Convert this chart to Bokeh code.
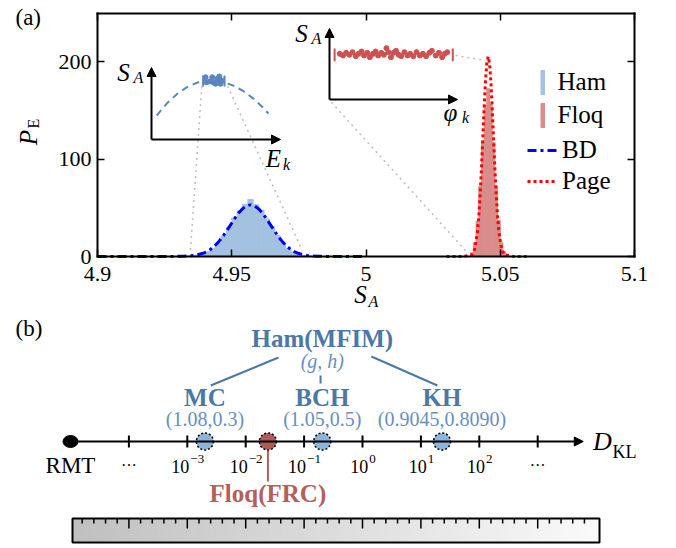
import numpy as np
from bokeh.plotting import figure
from bokeh.models import (Range1d, LinearAxis, FixedTicker, NumeralTickFormatter, CustomJSTickFormatter,
                          Label, Arrow, NormalHead, Legend, LegendItem)
from bokeh.layouts import column
from bokeh.core.properties import value
from bokeh.embed import file_html
from bokeh.resources import INLINE

SERIF = "Liberation Serif"

# ---------------- panel (a) data ----------------
ham_bins = [4.935, 4.937, 4.939, 4.941, 4.943, 4.945, 4.947, 4.949, 4.951, 4.953, 4.955, 4.957,
            4.959, 4.961, 4.963, 4.965, 4.967, 4.969, 4.971, 4.973, 4.975, 4.977, 4.979]
ham_density = [0.6, 1.3, 2.6, 4.9, 8.5, 13.5, 21.0, 29.5, 39.5, 47.0, 53.5, 58.5,
               53.0, 47.5, 38.5, 30.5, 21.5, 14.0, 8.0, 4.6, 2.3, 1.1, 0.5]
ham_bin_width = 0.002

floq_bins = [5.0395, 5.0405, 5.0415, 5.0425, 5.0435, 5.0445, 5.0455, 5.0465, 5.0475,
             5.0485, 5.0495, 5.0505, 5.0515, 5.0525]
floq_density = [4, 14, 36, 72, 118, 155, 172, 156, 117, 72, 37, 14, 5, 1.5]
floq_bin_width = 0.001

bd_s = [4.900, 4.925, 4.932, 4.936, 4.939, 4.9405, 4.942, 4.9435, 4.945, 4.9465, 4.948, 4.9495,
        4.951, 4.9525, 4.954, 4.9555, 4.957, 4.9585, 4.960, 4.9615, 4.963, 4.9645, 4.966, 4.9675,
        4.969, 4.9705, 4.972, 4.9735, 4.975, 4.978, 4.982, 4.990, 5.000]
bd_p = [0, 0, 0.2, 1.05, 3.0, 4.7, 7.2, 10.5, 14.7, 19.9, 25.8, 32.2,
        38.5, 44.3, 48.9, 51.9, 53.0, 51.9, 48.9, 44.3, 38.5, 32.2, 25.8, 19.9,
        14.7, 10.5, 7.2, 4.7, 3.0, 1.05, 0.2, 0, 0]

page_s = [5.030, 5.036, 5.0395, 5.0405, 5.0415, 5.042, 5.0425, 5.043, 5.0435, 5.044, 5.0445, 5.045,
          5.0455, 5.046, 5.0465, 5.047, 5.0475, 5.048, 5.0485, 5.049, 5.0495, 5.0505, 5.0515,
          5.055, 5.060]
page_p = [0, 0, 1.8, 7.7, 25.0, 41.0, 62.7, 90.2, 121.2, 152.5, 179.8, 198.4,
          205.0, 198.4, 179.8, 152.5, 121.2, 90.2, 62.7, 41.0, 25.0, 7.7, 1.8, 0, 0]

x_ticks = [4.9, 4.95, 5.0, 5.05, 5.1]
y_ticks = [0, 100, 200]
x_lim = (4.9, 5.1)
y_lim = (0, 249.2)

# schematic insets, in normalised inset coordinates (0..1)
ham_arc_u = [0.04, 0.12, 0.2, 0.28, 0.36, 0.457, 0.55, 0.63, 0.71, 0.79, 0.86, 0.907]
ham_arc_v = [0.333, 0.502, 0.635, 0.732, 0.794, 0.82, 0.80, 0.752, 0.675, 0.568, 0.451, 0.36]
ham_pts_u = [0.419, 0.426, 0.452, 0.471, 0.496, 0.509, 0.525, 0.535, 0.478, 0.545]
ham_pts_v = [0.865, 0.796, 0.806, 0.865, 0.774, 0.843, 0.875, 0.774, 0.796, 0.82]
ham_bar_u = [0.40, 0.566]
ham_bar_v = [0.736, 0.889]

floq_pts_u = [0.08, 0.105, 0.13, 0.155, 0.18, 0.205, 0.225, 0.25, 0.27, 0.295, 0.315, 0.34, 0.36,
              0.38, 0.405, 0.425, 0.445, 0.46, 0.48, 0.5, 0.52, 0.54, 0.56, 0.585, 0.61, 0.63,
              0.655, 0.68, 0.705, 0.73, 0.755, 0.78, 0.8, 0.83, 0.855, 0.88, 0.9, 0.92]
floq_pts_v = [0.643, 0.62, 0.657, 0.63, 0.667, 0.61, 0.643, 0.676, 0.62, 0.657, 0.596, 0.643, 0.676,
              0.62, 0.657, 0.63, 0.723, 0.667, 0.596, 0.657, 0.686, 0.63, 0.61, 0.667, 0.62, 0.643,
              0.61, 0.667, 0.62, 0.643, 0.61, 0.657, 0.686, 0.62, 0.657, 0.596, 0.643, 0.667]
floq_bar_u = [0.04, 0.963]
floq_bar_v = [0.54, 0.72]

# ---------------- panel (b) data ----------------
model_names = ["MC", "BCH", "KH"]
model_params = ["(1.08,0.3)", "(1.05,0.5)", "(0.9045,0.8090)"]
model_dkl = [2.0e-3, 2.05e-1, 2.3e1]
floq_dkl = 2.4e-2
decade_exps = [-3, -2, -1, 0, 1, 2]
decade_exp_labels = ["\u22123", "\u22122", "\u22121", "0", "1", "2"]

# colours
HAM_FILL = "#a3c1e0"
HAM_DARK = "#5a86bf"
FLOQ_FILL = "#d98d8b"
FLOQ_DARK = "#cf5050"
B_BLUE = "#4b78a6"
B_BLUE_L = "#6790bd"
B_RED = "#b35f5c"
CIRC_BLUE = "#8db5dc"
CIRC_RED = "#b05a5a"

W = 676
H1 = 312          # height of panel (a) canvas
H2 = 548 - H1     # height of panel (b) canvas


# page-pixel -> data helpers for panel (a) (frame 97..634 x 13..256)
def fx(px):
    return 4.9 + (px - 97) * 0.2 / 537


def fy(py):
    return (256 - py) * 200 / 195


# ================= panel (a) =================
p = figure(width=W, height=H1, x_range=Range1d(fx(0), fx(W)), y_range=Range1d(fy(H1), fy(0)),
           output_backend="svg", toolbar_location=None, min_border=0)
p.grid.visible = False
p.outline_line_color = None


def style_axis(ax, standoff):
    ax.major_tick_in = 7
    ax.major_tick_out = 0
    ax.minor_tick_line_color = None
    ax.major_tick_line_width = 1.5
    ax.axis_line_width = 2
    ax.axis_line_cap = "square"
    ax.major_label_text_font = SERIF
    ax.major_label_text_font_size = "22px"
    ax.major_label_text_color = "black"
    ax.major_label_standoff = standoff


xa = p.xaxis[0]
xa.ticker = FixedTicker(ticks=x_ticks)
xa.formatter = NumeralTickFormatter(format="0.[00]")
xa.fixed_location = y_lim[0]
xa.bounds = x_lim
ya = p.yaxis[0]
ya.ticker = FixedTicker(ticks=y_ticks)
ya.fixed_location = x_lim[0]
ya.bounds = y_lim
style_axis(xa, 10)
style_axis(ya, 6)
top_ax = LinearAxis(ticker=FixedTicker(ticks=x_ticks), formatter=CustomJSTickFormatter(code="return ''"),
                    fixed_location=y_lim[1], bounds=x_lim)
style_axis(top_ax, 0)
p.add_layout(top_ax, "above")
right_ax = LinearAxis(ticker=FixedTicker(ticks=y_ticks), formatter=CustomJSTickFormatter(code="return ''"),
                      fixed_location=x_lim[1], bounds=y_lim)
style_axis(right_ax, 0)
p.add_layout(right_ax, "right")

box1 = (fx(151), fx(280), fy(139), fy(67))
box2 = (fx(329), fx(457), fy(99), fy(28))


def imap(box, u, v):
    x0, x1, y0, y1 = box
    return (x0 + (x1 - x0) * np.asarray(u, dtype=float), y0 + (y1 - y0) * np.asarray(v, dtype=float))


# connectors (grey dotted)
c1a = imap(box1, 0.39, 0.74)
c1b = imap(box1, 0.59, 0.74)
c2a = imap(box2, 0.985, 0.62)
c2b = imap(box2, 0.015, -0.04)
p.segment(x0=[c1a[0], c1b[0], c2a[0], c2b[0]], y0=[c1a[1], c1b[1], c2a[1], c2b[1]],
          x1=[4.9346, 4.9763, 5.0445, 5.0371], y1=[6, 6, 201, 6],
          line_color="#bdbdbd", line_width=1.5, line_dash="2 4")

r_ham = p.vbar(x=ham_bins, top=ham_density, width=ham_bin_width, fill_color=HAM_FILL,
               line_color=HAM_FILL, line_width=1)
r_floq = p.vbar(x=floq_bins, top=floq_density, width=floq_bin_width, fill_color=FLOQ_FILL,
                line_color=FLOQ_FILL, line_width=1)
r_bd = p.line(bd_s, bd_p, line_color="#0000ff", line_width=3, line_dash="9 4 3 4")
r_page = p.line(page_s, page_p, line_color="#ff0000", line_width=3, line_dash="3 3")

# inset axes
for box in (box1, box2):
    x0, x1, y0, y1 = box
    p.add_layout(Arrow(end=NormalHead(size=9, fill_color="black", line_color="black", line_width=1),
                       x_start=x0, y_start=y0, x_end=x0, y_end=y1, line_width=2, line_color="black"))
    p.add_layout(Arrow(end=NormalHead(size=9, fill_color="black", line_color="black", line_width=1),
                       x_start=x0, y_start=y0, x_end=x1, y_end=y0, line_width=2, line_color="black"))

ax_, ay_ = imap(box1, ham_arc_u, ham_arc_v)
p.line(ax_, ay_, line_color=HAM_DARK, line_width=2, line_dash="7 5")
hx, hy = imap(box1, ham_pts_u, ham_pts_v)
p.scatter(hx, hy, size=5, color=HAM_DARK)
bx0, by0 = imap(box1, ham_bar_u, [ham_bar_v[0]] * 2)
bx1, by1 = imap(box1, ham_bar_u, [ham_bar_v[1]] * 2)
p.segment(x0=bx0, y0=by0, x1=bx1, y1=by1, line_color=HAM_DARK, line_width=2)

fxp, fyp = imap(box2, floq_pts_u, floq_pts_v)
p.scatter(fxp, fyp, size=5, color=FLOQ_DARK)
bx0, by0 = imap(box2, floq_bar_u, [floq_bar_v[0]] * 2)
bx1, by1 = imap(box2, floq_bar_u, [floq_bar_v[1]] * 2)
p.segment(x0=bx0, y0=by0, x1=bx1, y1=by1, line_color=FLOQ_DARK, line_width=2)


def lab(fig, x, y, text, size, style="normal", align="center", xo=0, yo=0, angle=0, color="black"):
    fig.add_layout(Label(x=x, y=y, text=text, x_offset=xo, y_offset=yo, angle=angle,
                         text_font=SERIF, text_font_size=size, text_font_style=style,
                         text_align=align, text_baseline="middle", text_color=color))


for box, sym, sxo, syo, kxo, kyo in ((box1, "E", -7, -19, 6, -25), (box2, "\u03c6", -7, -13, 8, -18)):
    x0, x1, y0, y1 = box
    lab(p, x0, y1, "S", "25px", "italic", xo=-28, yo=-5)
    lab(p, x0, y1, "A", "16px", "italic", xo=-13, yo=-10)
    lab(p, x1, y0, sym, "25px", "italic", xo=sxo, yo=syo)
    lab(p, x1, y0, "k", "16px", "italic", xo=kxo, yo=kyo)

# axis labels and panel tag
lab(p, fx(15), fy(17), "(a)", "23px", align="left")
lab(p, fx(360), fy(294), "S", "25px", "italic")
lab(p, fx(373), fy(301), "A", "16px", "italic")
lab(p, fx(28), fy(137), "P", "25px", "italic", angle=np.pi / 2)
lab(p, fx(33), fy(123), "E", "16px", angle=np.pi / 2)

leg1 = Legend(items=[LegendItem(label="Ham", renderers=[r_ham]), LegendItem(label="Floq", renderers=[r_floq])],
              location=(539.5, H1 - 129.5), glyph_width=5, glyph_height=30, spacing=3, padding=0, margin=0,
              label_standoff=13)
leg2 = Legend(items=[LegendItem(label="BD", renderers=[r_bd]), LegendItem(label="Page", renderers=[r_page])],
              location=(527, H1 - 196), glyph_width=30, glyph_height=30, spacing=1, padding=0, margin=0,
              label_standoff=5)
for lg in (leg1, leg2):
    lg.border_line_color = None
    lg.background_fill_alpha = 0
    lg.label_text_font = SERIF
    lg.label_text_font_size = "25px"
    lg.label_text_color = "black"
    p.add_layout(lg)


# ================= panel (b) =================
def bxp(px):
    return (px - 362) / 58.4


def byp(py):
    return 441 - py


q = figure(width=W, height=H2, x_range=Range1d(bxp(0), bxp(W)), y_range=Range1d(byp(548), byp(H1)),
           output_backend="svg", toolbar_location=None, min_border=0,
           x_axis_type=None, y_axis_type=None)
q.grid.visible = False
q.outline_line_color = None

rmt_x = -5.0
q.add_layout(Arrow(end=NormalHead(size=9, fill_color="black", line_color="black", line_width=1),
                   x_start=rmt_x, y_start=0, x_end=3.78, y_end=0, line_width=2, line_color="black"))
tick_pos = [-4, -3, -2, -1, 0, 1, 2, 3]
q.segment(x0=tick_pos, y0=[-6] * 8, x1=tick_pos, y1=[6] * 8, line_color="black", line_width=2)
q.ellipse(x=[rmt_x], y=[0], width=15, height=12, width_units="screen", height_units="screen",
          fill_color="black", line_color="black")

# decade labels
exp_w = [14 if e < 0 else 6.5 for e in decade_exps]
split = [18 - (18 + w) / 2 for w in exp_w]
q.text(x=decade_exps, y=[-25] * 6, text=["10"] * 6, x_offset=split, text_font=value(SERIF),
       text_font_size="18px", text_align="right", text_baseline="middle", text_color="black")
q.text(x=decade_exps, y=[-17] * 6, text=decade_exp_labels, x_offset=[s + 1 for s in split],
       text_font=value(SERIF), text_font_size="13px", text_align="left", text_baseline="middle",
       text_color="black")
q.text(x=[-4, 3], y=[-24, -24], text=["\u00b7\u00b7\u00b7"] * 2, text_font=value(SERIF),
       text_font_size="16px", text_align="center", text_baseline="middle", text_color="black")
q.text(x=[rmt_x], y=[-24], text=["RMT"], text_font=value(SERIF), text_font_size="23px",
       text_align="center", text_baseline="middle", text_color="black")
q.text(x=[bxp(602)], y=[0], text=["D"], text_font=value(SERIF), text_font_size="26px",
       text_font_style="italic", text_align="center", text_baseline="middle", text_color="black")
q.text(x=[bxp(612)], y=[-10], text=["KL"], text_font=value(SERIF), text_font_size="18px",
       text_align="left", text_baseline="middle", text_color="black")

mx = np.log10(model_dkl)
flx = np.log10(floq_dkl)
hub_x = mx[1]
q.segment(x0=[hub_x - 0.75, hub_x - 0.03, hub_x + 0.84], y0=[84, 66, 85],
          x1=[mx[0] + 0.10, hub_x - 0.03, mx[2] - 0.08], y1=[56, 58, 56], line_color=B_BLUE, line_width=2)
q.segment(x0=[flx], y0=[-9], x1=[flx], y1=[-40], line_color=B_RED, line_width=2)
q.scatter(x=list(mx) + [flx], y=[0] * 4, size=17, fill_color=[CIRC_BLUE] * 3 + [CIRC_RED],
          line_color="black", line_width=1.5, line_dash="2 2")

q.text(x=[hub_x], y=[103], text=["Ham(MFIM)"], text_font=value(SERIF), text_font_size="25px",
       text_font_style="bold", text_align="center", text_baseline="middle", text_color=B_BLUE)
q.text(x=[hub_x], y=[81], text=["(g, h)"], text_font=value(SERIF), text_font_size="20px",
       text_font_style="italic", text_align="center", text_baseline="middle", text_color=B_BLUE_L)
q.text(x=mx, y=[44] * 3, text=model_names, text_font=value(SERIF), text_font_size="25px",
       text_font_style="bold", text_align="center", text_baseline="middle", text_color=B_BLUE)
q.text(x=mx, y=[23] * 3, text=model_params, text_font=value(SERIF), text_font_size="20px",
       text_align="center", text_baseline="middle", text_color=B_BLUE_L)
q.text(x=[flx], y=[-52], text=["Floq(FRC)"], text_font=value(SERIF), text_font_size="25px",
       text_font_style="bold", text_align="center", text_baseline="middle", text_color=B_RED)
q.text(x=[bxp(15)], y=[113], text=["(b)"], text_font=value(SERIF), text_font_size="23px",
       text_align="left", text_baseline="middle", text_color="black")

# ruler with gradient
r_left, r_right, r_top, r_bot = bxp(72), bxp(599), byp(518), byp(542)
n = 80
edges = np.linspace(r_left, r_right, n + 1)
greys = np.linspace(192, 250, n).astype(int)
cols = ["#%02x%02x%02x" % (g, g, g) for g in greys]
q.quad(left=edges[:-1], right=edges[1:], top=[r_top] * n, bottom=[r_bot] * n,
       fill_color=cols, line_color=cols, line_width=1)
q.quad(left=[r_left], right=[r_right], top=[r_top], bottom=[r_bot], fill_color=None,
       line_color="black", line_width=2)
minor = [round(v, 1) for v in np.arange(-4.8, 3.81, 0.2) if abs(v - round(v)) > 1e-6]
major = [-4, -3, -2, -1, 0, 1, 2, 3]
q.segment(x0=minor, y0=[r_top] * len(minor), x1=minor, y1=[r_top - 5] * len(minor),
          line_color="black", line_width=1.5)
q.segment(x0=major, y0=[r_top] * len(major), x1=major, y1=[r_top - 10] * len(major),
          line_color="black", line_width=1.5)

layout = column(p, q, spacing=0)
open("out.html", "w").write(file_html(layout, INLINE))
